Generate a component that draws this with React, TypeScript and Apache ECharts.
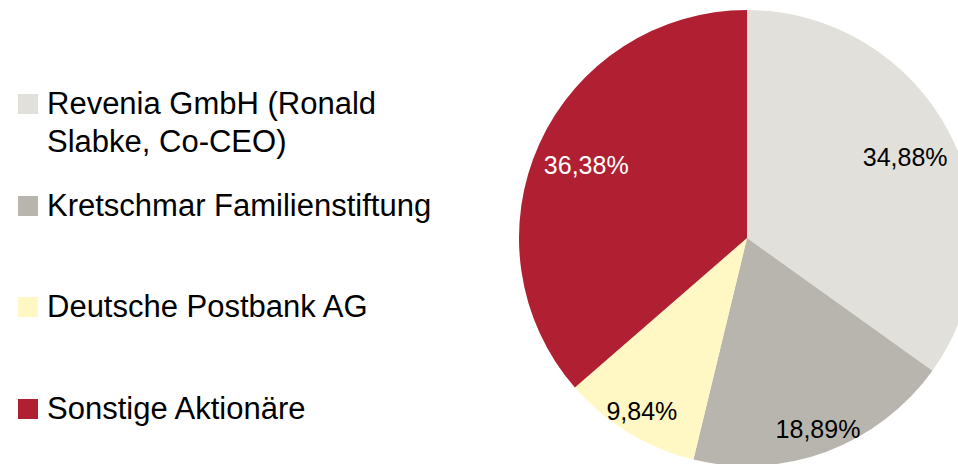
import React, { useEffect, useRef } from "react";
import * as echarts from "echarts";

const names = [
  "Revenia GmbH (Ronald\nSlabke, Co-CEO)",
  "Kretschmar Familienstiftung",
  "Deutsche Postbank AG",
  "Sonstige Aktionäre",
];
const values = [34.88, 18.89, 9.84, 36.38];
const colors = ["#E1E0DB", "#B8B5AE", "#FFF7C4", "#B01F32"];
const labelColors = ["#000000", "#000000", "#000000", "#FFFFFF"];

// layout constants (not data)
const CX = 747;
const CY = 238;
const R = 228;
const labelScale = [1.52, 1.74, 1.73, 1.51];
const legendCenters = [104, 206, 307, 409];
const FONT = "'Liberation Sans', Arial, Helvetica, sans-serif";

export default function App() {
  const ref = useRef<HTMLDivElement>(null);
  useEffect(() => {
    document.body.style.margin = "0";
    if (!ref.current) return;
    const chart = echarts.init(ref.current, null, { renderer: "svg" });
    const legendGraphics = names.map((n, i) => ({
      type: "group",
      children: [
        {
          type: "rect",
          shape: { x: 18, y: legendCenters[i] - 10, width: 20, height: 20 },
          style: { fill: colors[i] },
        },
        {
          type: "text",
          x: 47,
          y: legendCenters[i] - 18.8,
          style: {
            text: n,
            fill: "#000",
            font: `31px ${FONT}`,
            fontSize: 31,
            fontFamily: FONT,
            lineHeight: 37.6,
            verticalAlign: "top",
            align: "left",
          },
        },
      ],
    }));
    chart.setOption({
      animation: false,
      backgroundColor: "#ffffff",
      graphic: legendGraphics,
      series: [
        {
          type: "pie",
          center: [CX, CY],
          radius: [0, R],
          startAngle: 90,
          clockwise: true,
          silent: true,
          data: values.map((v, i) => ({
            name: names[i],
            value: v,
            itemStyle: { color: colors[i] },
            label: { color: labelColors[i] },
          })),
          itemStyle: { borderWidth: 0 },
          label: {
            show: true,
            position: "inside",
            fontSize: 25,
            fontFamily: FONT,
            formatter: (p: any) => values[p.dataIndex].toFixed(2).replace(".", ",") + "%",
          },
          labelLine: { show: false },
          labelLayout: (p: any) => {
            const k = labelScale[p.dataIndex];
            const lx = p.labelRect.x + p.labelRect.width / 2;
            const ly = p.labelRect.y + p.labelRect.height / 2;
            return { dx: (lx - CX) * (k - 1), dy: (ly - CY) * (k - 1) };
          },
        },
      ],
    });
    return () => chart.dispose();
  }, []);
  return <div ref={ref} style={{ width: 958, height: 464 }} />;
}
